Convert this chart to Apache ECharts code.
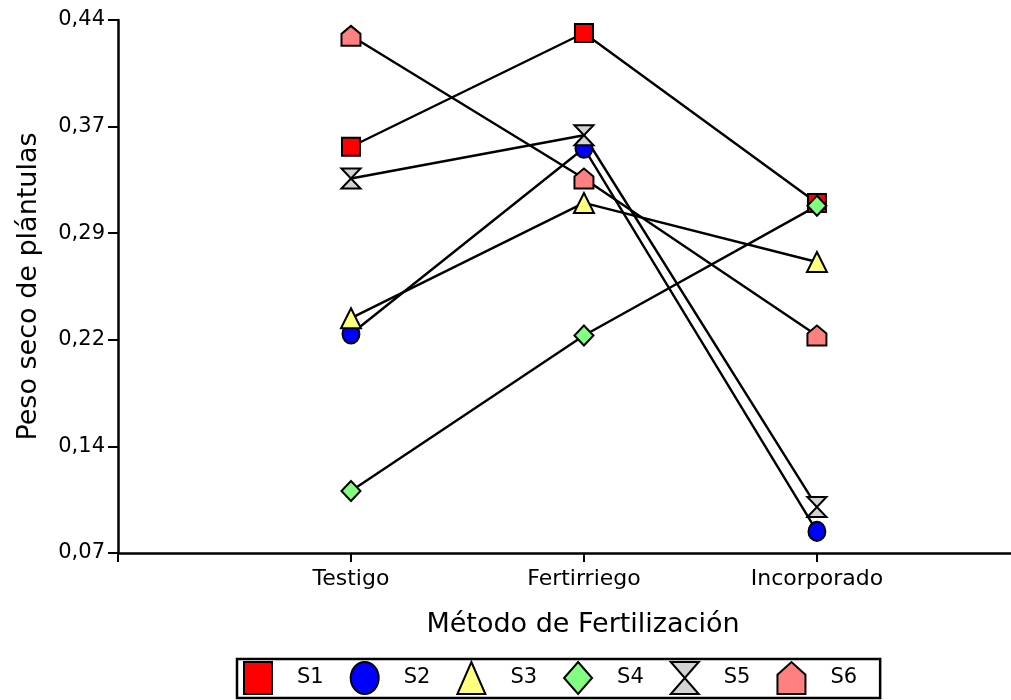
<!DOCTYPE html>
<html>
<head>
<meta charset="utf-8">
<script src="https://cdn.jsdelivr.net/npm/echarts@6/dist/echarts.min.js"></script>
<style>
html,body{margin:0;padding:0;background:#fff;}
#chart{width:1011px;height:700px;}
</style>
</head>
<body>
<div id="chart"></div>
<script>
var categories = ['Testigo', 'Fertirriego', 'Incorporado'];
var seriesNames = ['S1', 'S2', 'S3', 'S4', 'S5', 'S6'];
var s1 = [0.352, 0.431, 0.313];
var s2 = [0.222, 0.351, 0.085];
var s3 = [0.233, 0.313, 0.272];
var s4 = [0.113, 0.221, 0.311];
var s5 = [0.330, 0.360, 0.102];
var s6 = [0.429, 0.330, 0.221];
var yTicks = [0.07, 0.144, 0.218, 0.292, 0.366, 0.44];
var xPositions = [1, 2, 3];

var allValues = [s1, s2, s3, s4, s5, s6];
var colors = ['#FF0000', '#0000FF', '#FFFF80', '#80FF80', '#D3D3D3', '#FF8080'];
var symbols = [
  'rect',
  'path://M0,5 A5,5 0 1,1 10,5 A5,5 0 1,1 0,5 Z',
  'triangle',
  'diamond',
  'path://M0,0 L10,0 L0,10 L10,10 Z',
  'path://M0,4 L5,0 L10,4 L10,10 L0,10 Z'
];
var symbolSizes = [[18, 18], [17, 19], [20, 20], [19, 20], [19, 20], [19, 20]];
var FONT = 'DejaVu Sans';

var chart = echarts.init(document.getElementById('chart'), null, {renderer: 'canvas'});

var series = allValues.map(function (vals, i) {
  return {
    name: seriesNames[i],
    type: 'line',
    data: vals.map(function (v, j) { return [xPositions[j], v]; }),
    symbol: symbols[i],
    symbolSize: symbolSizes[i],
    symbolKeepAspect: false,
    lineStyle: {color: '#000', width: 2.4},
    itemStyle: {color: colors[i], borderColor: '#000', borderWidth: 2},
    emphasis: {disabled: true},
    animation: false
  };
});

chart.setOption({
  animation: false,
  grid: {left: 118, right: 0, top: 20, bottom: 147, containLabel: false},
  xAxis: {
    type: 'value',
    min: 0,
    max: 3.833,
    name: 'Método de Fertilización',
    nameLocation: 'middle',
    nameGap: 58,
    nameTextStyle: {fontFamily: FONT, fontSize: 27, color: '#000', padding: [0, 0, 0, 37]},
    axisLine: {show: true, lineStyle: {color: '#000', width: 2.5}},
    axisTick: {show: true, customValues: [0, 1, 2, 3], length: 9, lineStyle: {color: '#000', width: 2}},
    axisLabel: {
      customValues: xPositions,
      formatter: function (v) { return categories[Math.round(v) - 1]; },
      fontFamily: FONT, fontSize: 22, color: '#000', margin: 15
    },
    splitLine: {show: false}
  },
  yAxis: {
    type: 'value',
    min: 0.07,
    max: 0.44,
    name: 'Peso seco de plántulas',
    nameLocation: 'middle',
    nameGap: 76,
    nameTextStyle: {fontFamily: FONT, fontSize: 27, color: '#000'},
    axisLine: {show: true, lineStyle: {color: '#000', width: 2.5}},
    axisTick: {show: true, customValues: yTicks, length: 10, lineStyle: {color: '#000', width: 2}},
    axisLabel: {
      customValues: yTicks,
      formatter: function (v) { return v.toFixed(2).replace('.', ','); },
      fontFamily: FONT, fontSize: 21, color: '#000', margin: 13
    },
    splitLine: {show: false}
  },
  legend: {
    left: 237,
    top: 659,
    orient: 'horizontal',
    padding: [2, 23, 3, 6],
    borderColor: '#000',
    borderWidth: 2.5,
    itemWidth: 28,
    itemHeight: 32,
    itemGap: 26,
    symbolKeepAspect: false,
    selectedMode: false,
    itemStyle: {borderColor: '#000', borderWidth: 2},
    textStyle: {fontFamily: FONT, fontSize: 21, color: '#000', padding: [0, 0, 0, 20]},
    data: seriesNames.map(function (n, i) { return {name: n, icon: symbols[i]}; })
  },
  series: series
});
</script>
</body>
</html>
